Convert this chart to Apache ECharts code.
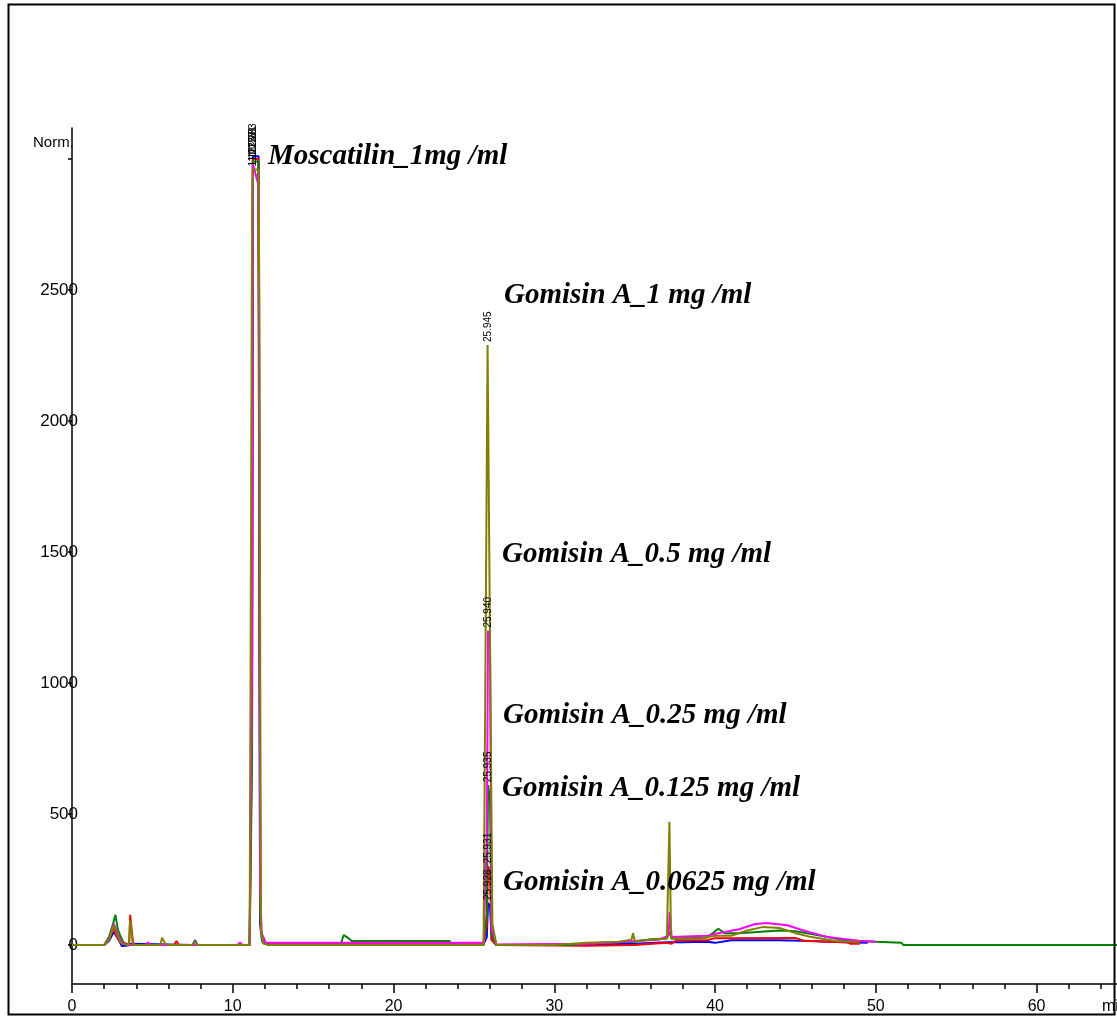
<!DOCTYPE html>
<html>
<head>
<meta charset="utf-8">
<title>HPLC chromatogram – Moscatilin / Gomisin A</title>
<script src="https://cdn.jsdelivr.net/npm/echarts@6.0.0/dist/echarts.min.js"></script>
<style>
  html, body { margin: 0; padding: 0; background: #fff; }
  #chart { width: 1117px; height: 1016px; }
</style>
</head>
<body>
<div id="chart"></div>
<script>
// Retention time (min) vs. detector response (Norm.) for five overlaid runs.
// Each run: Moscatilin 1 mg/ml spiked with a different Gomisin A concentration.

const xTickLabels = [0, 10, 20, 30, 40, 50, 60];
const xMinorTicks = [2, 4, 6, 8, 12, 14, 16, 18, 22, 24, 26, 28, 32, 34, 36, 38, 42, 44, 46, 48, 52, 54, 56, 58, 62, 64];
const yTickLabels = [0, 500, 1000, 1500, 2000, 2500];
const yTicks = [0, 500, 1000, 1500, 2000, 2500, 3000];

// Gomisin A 0.0625 mg/ml
const traceBlue = [
  [0, 0], [2.0, 0], [2.3, 15], [2.6, 50], [2.9, 20], [3.1, -4], [3.5, -2], [3.7, 5], [3.8, 0],
  [7.5, 0], [7.65, 18], [7.8, 0], [11.05, 0], [11.2, 1330], [11.25, 3010], [11.6, 3010],
  [11.65, 1500], [11.7, 80], [11.85, 10], [12.2, 2], [25.6, 2], [25.8, 30], [25.88, 160],
  [26.0, 150], [26.1, 20], [26.4, 0], [32, 3], [35, 5], [37, 10], [38, 10], [39.5, 12],
  [40, 8], [41, 18], [44, 18], [46, 15], [48, 10], [49.5, 8]
];
// Gomisin A 0.125 mg/ml
const traceRed = [
  [0, 0], [2.0, 0], [2.3, 20], [2.6, 65], [2.8, 30], [3.0, 10], [3.4, 5], [3.55, 0],
  [3.62, 115], [3.72, 115], [3.8, 5], [4.0, 0], [6.35, 0], [6.5, 15], [6.65, 0], [11.05, 0],
  [11.2, 900], [11.25, 3000], [11.6, 3000], [11.65, 1200], [11.75, 50], [11.9, 30], [12.05, 5],
  [25.6, 2], [25.8, 80], [25.88, 300], [26.0, 280], [26.1, 20], [26.4, 0], [32, -3], [35, 0],
  [37, 8], [37.3, 5], [37.6, 18], [39.5, 18], [40, 26], [45, 27], [45.5, 16], [47, 12],
  [48.2, 10], [48.4, 5], [49, 5]
];
// Gomisin A 0.25 mg/ml
const traceGreen = [
  [0, 0], [2.0, 0], [2.3, 30], [2.55, 80], [2.7, 115], [2.85, 60], [3.0, 35], [3.2, 10],
  [3.4, 0], [11.05, 0], [11.2, 700], [11.25, 2990], [11.6, 2990], [11.65, 1900], [11.7, 150],
  [11.8, 20], [12.2, 0], [16.7, 0], [16.9, 38], [17.1, 30], [17.4, 15], [23.5, 15], [23.6, 0],
  [25.6, 0], [25.8, 120], [25.88, 610], [26.0, 560], [26.1, 40], [26.4, 0], [31, 0], [33, 8],
  [35, 12], [36, 22], [37, 25], [37.2, 50], [37.3, 25], [39.5, 28], [40.2, 62], [40.6, 45],
  [41.5, 45], [44, 55], [45, 52], [46, 42], [47, 30], [48, 18], [50, 12], [51.6, 8],
  [51.7, 0], [65, 0]
];
// Gomisin A 0.5 mg/ml
const traceMagenta = [
  [0, 0], [2.0, 0], [2.3, 20], [2.6, 80], [2.8, 50], [3.0, 20], [3.2, 5], [3.5, 0],
  [4.6, 0], [4.7, 10], [4.9, 0], [10.3, 0], [10.45, 10], [10.6, 0], [11.05, 0], [11.2, 1100],
  [11.25, 2980], [11.6, 2900], [11.65, 2260], [11.7, 220], [11.8, 40], [12.05, 8], [25.6, 8],
  [25.8, 400], [25.88, 1200], [26.0, 1150], [26.1, 60], [26.4, 2], [32, 5], [34, 10],
  [35, 15], [36.5, 20], [37.1, 35], [37.18, 126], [37.3, 30], [39.5, 35], [40.2, 45],
  [41.5, 60], [42.5, 80], [43.2, 84], [44.5, 75], [45.5, 55], [47, 30], [49, 15], [50, 12]
];
// Gomisin A 1 mg/ml
const traceOlive = [
  [0, 0], [2.0, 0], [2.3, 20], [2.6, 75], [2.9, 25], [3.1, 5], [3.55, 0], [3.62, 95],
  [3.72, 95], [3.8, 0], [5.5, 0], [5.6, 28], [5.8, 5], [6.0, 0], [7.5, 0], [7.65, 15],
  [7.8, 0], [11.05, 0], [11.2, 2800], [11.25, 2960], [11.6, 2960], [11.65, 2500], [11.75, 60],
  [11.9, 5], [12.2, 0], [25.6, 0], [25.85, 2290], [25.95, 1535], [26.02, 1535], [26.15, 80],
  [26.4, 0], [30, 0], [32, 8], [34, 12], [34.8, 20], [34.9, 45], [35.0, 15], [36, 20],
  [37, 25], [37.12, 25], [37.16, 470], [37.22, 470], [37.26, 25], [39, 25], [40, 35],
  [41, 35], [42, 55], [43, 69], [44, 65], [45, 45], [46, 30], [47.5, 15], [49, 10]
];

// Retention-time labels printed above the peaks: [time, apex response, text]
const rtBlue = [[11.25, 3010, '11.283'], [25.88, 160, '25.928']];
const rtRed = [[11.25, 3000, '11.281'], [25.88, 300, '25.931']];
const rtGreen = [[11.25, 2990, '11.279'], [25.88, 610, '25.935']];
const rtMagenta = [[11.25, 2980, '11.277'], [25.88, 1200, '25.940']];
const rtOlive = [[11.25, 2960, '11.275'], [25.9, 2290, '25.945']];

// Peak annotations: [text, left px, centre-line px]
const peakNotes = [
  ['Moscatilin_1mg /ml', 268, 157],
  ['Gomisin A_1 mg /ml', 504, 296],
  ['Gomisin A_0.5 mg /ml', 502, 555],
  ['Gomisin A_0.25 mg /ml', 503, 716],
  ['Gomisin A_0.125 mg /ml', 502, 789],
  ['Gomisin A_0.0625 mg /ml', 503, 883]
];

const runs = [
  { name: 'Gomisin A 0.0625 mg/ml', data: traceBlue, color: '#0000ff', rt: rtBlue },
  { name: 'Gomisin A 0.125 mg/ml', data: traceRed, color: '#ff0000', rt: rtRed },
  { name: 'Gomisin A 0.25 mg/ml', data: traceGreen, color: '#008000', rt: rtGreen },
  { name: 'Gomisin A 0.5 mg/ml', data: traceMagenta, color: '#ff00ff', rt: rtMagenta },
  { name: 'Gomisin A 1 mg/ml', data: traceOlive, color: '#808000', rt: rtOlive }
];

const chart = echarts.init(document.getElementById('chart'), null, { renderer: 'canvas' });

const tickFont = { fontFamily: 'Liberation Sans, Arial, sans-serif', color: '#000' };
const plain = v => String(v);

const option = {
  animation: false,
  backgroundColor: '#fff',
  grid: { left: 72, right: 0, top: 128, bottom: 32, containLabel: false },
  xAxis: [
    {
      type: 'value', min: 0, max: 65,
      axisLine: { onZero: false, lineStyle: { color: '#000', width: 1.5 } },
      axisTick: { customValues: xTickLabels, length: 9, lineStyle: { color: '#000', width: 1.5 } },
      axisLabel: Object.assign({ customValues: xTickLabels, fontSize: 16, margin: 15, formatter: plain }, tickFont),
      splitLine: { show: false }
    },
    {
      type: 'value', min: 0, max: 65, position: 'bottom',
      axisLine: { show: false, onZero: false },
      axisTick: { customValues: xMinorTicks, length: 5, lineStyle: { color: '#000', width: 1.5 } },
      axisLabel: { show: false },
      splitLine: { show: false }
    }
  ],
  yAxis: {
    type: 'value', min: -149, max: 3118,
    axisLine: { onZero: false, lineStyle: { color: '#000', width: 1.5 } },
    axisTick: { customValues: yTicks, length: 4, lineStyle: { color: '#000', width: 1.5 } },
    axisLabel: Object.assign({ customValues: yTickLabels, fontSize: 17, margin: -6, formatter: plain }, tickFont),
    splitLine: { show: false }
  },
  series: runs.map(r => ({
    name: r.name,
    type: 'line',
    xAxisIndex: 0,
    data: r.data,
    showSymbol: false,
    symbol: 'none',
    lineStyle: { color: r.color, width: 2 },
    itemStyle: { color: r.color },
    clip: true
  })),
  graphic: []
};

chart.setOption(option);

// Static text and frame
const graphics = [
  {
    type: 'rect', silent: true, z: 100,
    shape: { x: 8.5, y: 4.5, width: 1106, height: 1010 },
    style: { fill: 'none', stroke: '#000', lineWidth: 2 }
  },
  {
    type: 'text', x: 33, y: 143, z: 50,
    style: { text: 'Norm.', fontSize: 15, fontFamily: 'Liberation Sans, Arial, sans-serif', fill: '#000', textVerticalAlign: 'middle' }
  },
  {
    type: 'text', x: 1102, y: 1007, z: 50,
    style: { text: 'min', fontSize: 16, fontFamily: 'Liberation Sans, Arial, sans-serif', fill: '#000', textVerticalAlign: 'middle' }
  }
];

peakNotes.forEach(([txt, left, cy]) => {
  graphics.push({
    type: 'text', x: left, y: cy, z: 60,
    style: {
      text: txt, fill: '#000',
      font: 'italic bold 29px "Liberation Serif", "Times New Roman", serif',
      textVerticalAlign: 'middle', textAlign: 'left'
    }
  });
});

// Rotated retention times, anchored to each apex through the axis scales
runs.forEach(r => {
  r.rt.forEach(([t, h, txt]) => {
    const p = chart.convertToPixel({ xAxisIndex: 0, yAxisIndex: 0 }, [t, h]);
    graphics.push({
      type: 'text', x: p[0], y: p[1] - 3, rotation: Math.PI / 2, z: 55,
      style: {
        text: txt, fill: '#000', fontSize: 10,
        fontFamily: 'Liberation Sans, Arial, sans-serif',
        textAlign: 'left', textVerticalAlign: 'middle'
      }
    });
  });
});

chart.setOption({ graphic: graphics });
</script>
</body>
</html>
